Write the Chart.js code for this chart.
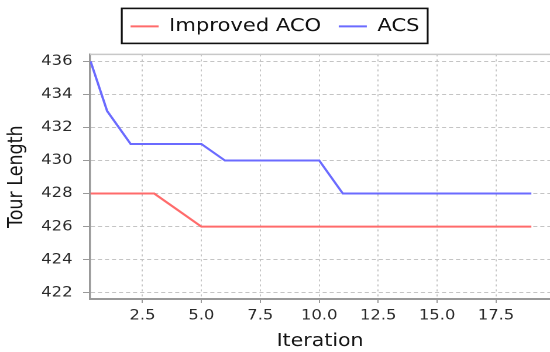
<!DOCTYPE html>
<html><head><meta charset="utf-8">
<script src="https://cdn.jsdelivr.net/npm/chart.js@4.4.1/dist/chart.umd.min.js"></script>
<style>
html,body{margin:0;padding:0;background:#fff;overflow:hidden;}
#wrap{width:470px;height:352px;transform:scaleX(1.1702);transform-origin:0 0;}
</style></head><body>
<div id="wrap"><canvas id="c" width="470" height="352"></canvas></div>
<script>
// ---- data ----
const seriesNames = ['Improved ACO', 'ACS'];
const iterations  = [0.3, 1, 2, 3, 4, 5, 6, 7, 8, 9, 10, 11, 12, 13, 14, 15, 16, 17, 18, 19];
const improvedACO = [428, 428, 428, 428, 427, 426, 426, 426, 426, 426, 426, 426, 426, 426, 426, 426, 426, 426, 426, 426];
const acs         = [436, 433, 431, 431, 431, 431, 430, 430, 430, 430, 430, 428, 428, 428, 428, 428, 428, 428, 428, 428];
const xTickValues = [2.5, 5, 7.5, 10, 12.5, 15, 17.5];
const yTickValues = [422, 424, 426, 428, 430, 432, 434, 436];
const xRange = [0.28, 19.79];
const yRange = [421.62, 436.42];

const FONT = 'DejaVu Sans';
const toPts = ys => iterations.map((x, i) => ({x: x, y: ys[i]}));

const legendGap = {
  id: 'legendGap',
  afterInit(chart) {
    const lg = chart.legend;
    if (!lg) return;
    const orig = lg.fit.bind(lg);
    lg.fit = function () { orig(); this.height += 9; };
  }
};
const frames = {
  id: 'frames',
  afterDraw(chart) {
    const ctx = chart.ctx, a = chart.chartArea;
    ctx.save();
    ctx.strokeStyle = '#c8c8c8'; ctx.lineWidth = 1.5;
    ctx.beginPath(); ctx.moveTo(a.left, a.top); ctx.lineTo(a.right, a.top); ctx.stroke();
    const hb = chart.legend.legendHitBoxes;
    const l = Math.min(...hb.map(h => h.left)) - 7.5;
    const r = Math.max(...hb.map(h => h.left + h.width)) + 7;
    const t = Math.min(...hb.map(h => h.top)) - 9;
    const b = Math.max(...hb.map(h => h.top + h.height)) + 8;
    ctx.strokeStyle = '#111'; ctx.lineWidth = 1.6;
    ctx.strokeRect(l, t, r - l, b - t);
    ctx.restore();
  }
};

new Chart(document.getElementById('c'), {
  type: 'line',
  data: {
    datasets: [
      {label: seriesNames[0], data: toPts(improvedACO), borderColor: '#ff6b6b', backgroundColor: '#ff6b6b', borderWidth: 2, pointRadius: 0, tension: 0, fill: false},
      {label: seriesNames[1], data: toPts(acs), borderColor: '#6b6bff', backgroundColor: '#6b6bff', borderWidth: 2, pointRadius: 0, tension: 0, fill: false}
    ]
  },
  options: {
    responsive: false,
    devicePixelRatio: 2,
    animation: false,
    layout: {padding: {top: 2.4, left: 0, right: 0, bottom: 0}},
    plugins: {
      tooltip: {enabled: false},
      legend: {
        display: true, position: 'top', align: 'center',
        labels: {
          usePointStyle: true, pointStyle: 'line', pointStyleWidth: 24,
          font: {family: FONT, size: 18}, color: '#111', padding: 15
        }
      }
    },
    scales: {
      x: {
        type: 'linear', min: xRange[0], max: xRange[1],
        afterBuildTicks: s => { s.ticks = xTickValues.map(v => ({value: v})); },
        afterFit: s => { s.height = 53; },
        ticks: {callback: v => Number(v).toFixed(1), font: {family: FONT, size: 14}, color: '#2a2a2a', padding: 4.5, maxRotation: 0, autoSkip: false},
        grid: {color: '#c4c4c4', lineWidth: 1, tickLength: 4, tickColor: '#999', tickWidth: 1},
        border: {display: true, color: '#999', width: 2, dash: [2, 3]},
        title: {display: true, text: 'Iteration', font: {family: FONT, size: 17.5}, color: '#151515', padding: {top: 0, bottom: 0}}
      },
      y: {
        type: 'linear', min: yRange[0], max: yRange[1],
        afterBuildTicks: s => { s.ticks = yTickValues.map(v => ({value: v})); },
        afterFit: s => { s.width = 77; },
        ticks: {callback: v => String(v), font: {family: FONT, size: 14}, color: '#2a2a2a', padding: 9, autoSkip: false},
        grid: {color: '#c4c4c4', lineWidth: 1, tickLength: 6, tickColor: '#999', tickWidth: 1},
        border: {display: true, color: '#999', width: 1.7, dash: [3.5, 2.5]},
        title: {display: true, text: 'Tour Length', font: {family: FONT, size: 17.5}, color: '#151515', padding: {top: 4, bottom: 0}}
      }
    }
  },
  plugins: [legendGap, frames]
});
</script>
</body></html>
